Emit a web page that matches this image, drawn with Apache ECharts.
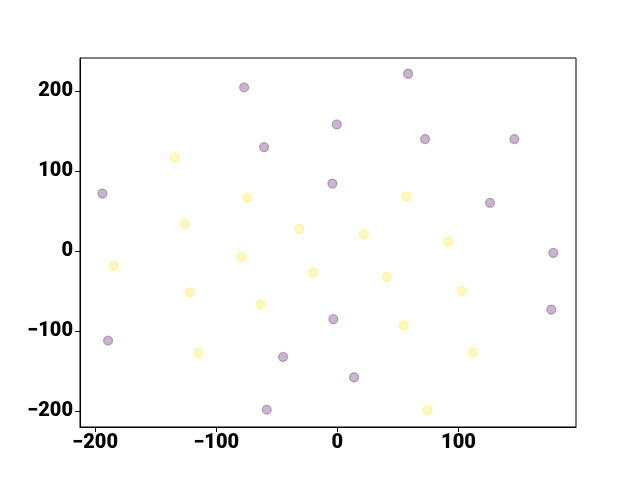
<!DOCTYPE html>
<html><head><meta charset="utf-8">
<script src="https://cdn.jsdelivr.net/npm/echarts@6/dist/echarts.min.js"></script>
<style>html,body{margin:0;padding:0;background:#fff}#c{width:640px;height:480px}</style>
</head><body><div id="c"></div>
<script>
const purpleX = [-77.0, -60.5, -194.0, -4.1, 58.4, -0.5, 72.4, 146.1, 126.0, 178.3, 176.6, -189.3, -3.3, -44.8, 13.8, -58.3];
const purpleY = [204.4, 129.8, 71.7, 84.2, 221.5, 158.1, 139.8, 139.8, 60.1, -2.5, -73.5, -112.3, -85.5, -132.7, -158.1, -198.6];
const yellowX = [-134.2, -74.3, -126.0, -31.4, 57.0, 21.8, 91.4, -184.6, -79.5, -20.1, -121.8, -63.6, -115.0, 40.8, 102.7, 54.8, 112.0, 74.3];
const yellowY = [116.8, 66.3, 33.8, 27.5, 68.0, 20.9, 11.3, -18.4, -7.9, -27.5, -51.7, -67.2, -127.7, -32.5, -50.1, -93.0, -127.3, -199.0];
const xTicks = [-200, -100, 0, 100];
const yTicks = [-200, -100, 0, 100, 200];

const zip = (a, b) => a.map((v, i) => [v, b[i]]);
const fmt = v => String(v).replace('-', '\u2212');
const labelStyle = { color: '#000', fontFamily: 'Roboto', fontWeight: 900, fontSize: 20 };

const chart = echarts.init(document.getElementById('c'), null, { renderer: 'canvas' });
chart.setOption({
  animation: false,
  grid: { left: 80, right: 64, top: 58, bottom: 53, show: true, borderColor: '#000', borderWidth: 1, backgroundColor: 'transparent' },
  xAxis: {
    type: 'value', min: -212.5, max: 197,
    splitLine: { show: false },
    axisLine: { show: true, onZero: false, lineStyle: { color: '#000', width: 1 } },
    axisTick: { show: true, inside: false, length: 5, lineStyle: { color: '#000' }, customValues: xTicks },
    axisLabel: Object.assign({ margin: 6, formatter: fmt, customValues: xTicks }, labelStyle)
  },
  yAxis: {
    type: 'value', min: -220.3, max: 241.2,
    splitLine: { show: false },
    axisLine: { show: true, onZero: false, lineStyle: { color: '#000', width: 1 } },
    axisTick: { show: true, inside: false, length: 5, lineStyle: { color: '#000' }, customValues: yTicks },
    axisLabel: Object.assign({ margin: 7, formatter: fmt, customValues: yTicks }, labelStyle)
  },
  series: [
    { type: 'scatter', data: zip(purpleX, purpleY), symbolSize: 9,
      itemStyle: { color: 'rgba(68,1,84,0.36)', borderColor: 'rgba(68,1,84,0.36)', borderWidth: 1.3 } },
    { type: 'scatter', data: zip(yellowX, yellowY), symbolSize: 9,
      itemStyle: { color: 'rgba(253,231,37,0.38)', borderColor: 'rgba(253,231,37,0.38)', borderWidth: 1.3 } }
  ]
});
</script></body></html>
